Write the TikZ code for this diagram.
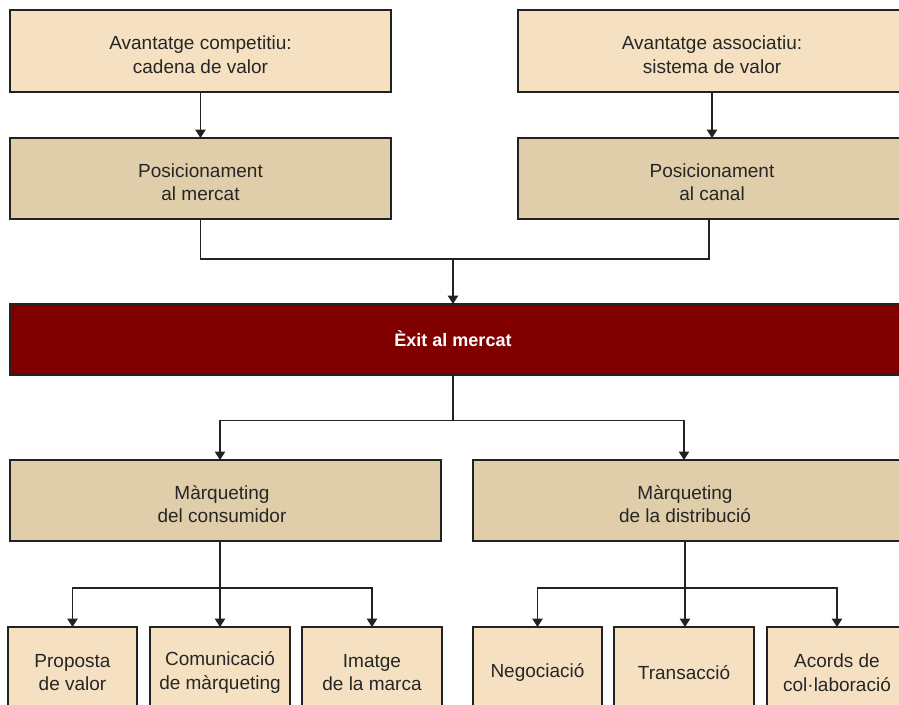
\documentclass[tikz,border=0pt]{standalone}
\usepackage{fontspec}
\setmainfont{Liberation Sans}
\usetikzlibrary{arrows.meta,calc}

\definecolor{sand}{RGB}{245,225,193}
\definecolor{tan}{RGB}{224,205,169}
\definecolor{maroon}{RGB}{128,0,0}
\definecolor{edge}{RGB}{34,34,34}

\tikzset{
  base/.style={draw=edge, line width=1.3pt, anchor=north west, inner sep=0pt,
    outer sep=0pt},
  lightbox/.style={base, fill=sand},
  darkbox/.style={base, fill=tan},
  redbox/.style={base, fill=maroon},
  boxtext/.style={inner sep=0pt, align=center, font=\fontsize{19}{23.5}\selectfont, text=black!85},
  txt/.style={label={[boxtext, yshift=-3.5pt]center:{#1}}},
  redtext/.style={inner sep=0pt, font=\fontsize{18}{22}\selectfont\bfseries, text=white},
  link/.style={draw=edge, line width=1.3pt},
  arrow/.style={link, -{Triangle[width=10.5pt,length=8.5pt]}}
}

\begin{document}
\begin{tikzpicture}[x=1pt,y=-1pt]
\useasboundingbox (0,0) rectangle (899,704);
\clip (0,0) rectangle (899,704);

% top row: sources of advantage
\node[lightbox, minimum width=381pt, minimum height=82pt,
  txt={Avantatge competitiu:\\cadena de valor}] (a1) at (10,10) {};
\node[lightbox, minimum width=388pt, minimum height=82pt,
  txt={Avantatge associatiu:\\sistema de valor}] (a2) at (518,10) {};

% positioning
\node[darkbox, minimum width=381pt, minimum height=81pt,
  txt={Posicionament\\al mercat}] (b1) at (10,138) {};
\node[darkbox, minimum width=388pt, minimum height=81pt,
  txt={Posicionament\\al canal}] (b2) at (518,138) {};

% market success
\node[redbox, minimum width=900pt, minimum height=71pt] (ex) at (10,304) {};
\node[redtext] (exlabel) at (453,339) {Èxit al mercat};

% marketing branches
\node[darkbox, minimum width=431pt, minimum height=81pt] (c1) at (10,460) {};
\node[boxtext] (c1label) at (222,504) {Màrqueting\\del consumidor};
\node[darkbox, minimum width=440pt, minimum height=81pt] (c2) at (473,460) {};
\node[boxtext] (c2label) at (685,504) {Màrqueting\\de la distribució};

% bottom row
\node[lightbox, minimum width=129pt, minimum height=84pt,
  txt={Proposta\\de valor}] (d1) at (8,627) {};
\node[lightbox, minimum width=140pt, minimum height=84pt,
  txt={Comunicació\\de màrqueting}] (d2) at (150,627) {};
\node[lightbox, minimum width=140pt, minimum height=84pt,
  txt={Imatge\\de la marca}] (d3) at (302,627) {};
\node[lightbox, minimum width=129pt, minimum height=84pt,
  txt={Negociació}] (d4) at (473,627) {};
\node[lightbox, minimum width=140pt, minimum height=84pt,
  txt={Transacció}] (d5) at (614,627) {};
\node[lightbox, minimum width=140pt, minimum height=84pt,
  txt={Acords de\\col·laboració}] (d6) at (767,627) {};

% junction points
\coordinate (j1) at (453,259);
\coordinate (j2) at (453,420.5);
\coordinate (j3) at (220,588);
\coordinate (j4) at (685,588);

% connectors
\draw[arrow] (a1.south) -- (b1.north);
\draw[arrow] (a2.south) -- (b2.north);
\draw[link] (b1.south) |- (j1) -| (b2.south -| 709,0);
\draw[arrow] (j1) -- (ex.north -| j1);

\draw[link] (ex.south -| j2) -- (j2);
\draw[arrow] (j2) -| (c1.north -| d2.north);
\draw[arrow] (j2) -| (c2.north -| d5.north);

\draw[link] (c1.south -| j3) -- (j3);
\draw[arrow] (j3) -| (d1.north);
\draw[arrow] (j3) -- (d2.north);
\draw[arrow] (j3) -| (d3.north);

\draw[link] (c2.south -| j4) -- (j4);
\draw[arrow] (j4) -| (d4.north);
\draw[arrow] (j4) -- (d5.north -| j4);
\draw[arrow] (j4) -| (d6.north);
\end{tikzpicture}
\end{document}
